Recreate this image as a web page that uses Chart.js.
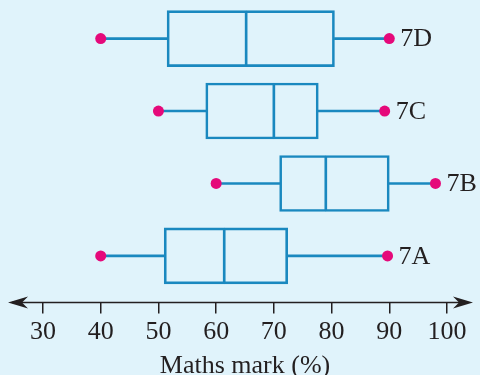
<!DOCTYPE html>
<html>
<head>
<meta charset="utf-8">
<script src="https://cdn.jsdelivr.net/npm/chart.js@4"></script>
<style>
  html, body { margin: 0; padding: 0; background: #e0f3fb; }
  #wrap { width: 480px; height: 375px; position: relative; }
</style>
</head>
<body>
<div id="wrap"><canvas id="boxChart"></canvas></div>
<script>
// one entry per class, bottom row first
const classes = ['7A', '7B', '7C', '7D'];
const minMarks = [40, 60, 50, 40];
const q1Marks = [51, 71, 58.2, 51.5];
const medianMarks = [61.4, 79, 70, 65.2];
const q3Marks = [72.4, 90, 77.7, 80.5];
const maxMarks = [89.7, 98, 89.2, 90];
const markTicks = [30, 40, 50, 60, 70, 80, 90, 100];

const bg = '#e0f3fb';
const blue = '#1a88bf';
const pink = '#e5097a';
const ink = '#231f20';
const serif = "'Liberation Serif', 'DejaVu Serif', serif";

let rows = classes.map((c, i) => i + 1);

let pairs = (a, b) => rows.map((r, i) => ({ y: r, x: [a[i], b[i]] }));

let dots = [];
rows.forEach((r, i) => {
  dots.push({ x: minMarks[i], y: r });
  dots.push({ x: maxMarks[i], y: r });
});

// axis line with arrow heads, class names next to the top whisker
const extras = {
  id: 'extras',
  beforeDraw(chart) {
    const ctx = chart.ctx;
    ctx.save();
    ctx.fillStyle = bg;
    ctx.fillRect(0, 0, chart.width, chart.height);
    ctx.restore();
  },
  afterDatasetsDraw(chart) {
    const { ctx, chartArea, scales: { x, y } } = chart;
    const ay = chartArea.bottom;
    ctx.save();
    ctx.strokeStyle = ink;
    ctx.fillStyle = ink;
    ctx.lineWidth = 1.6;
    ctx.beginPath();
    ctx.moveTo(12, ay);
    ctx.lineTo(468, ay);
    ctx.stroke();

    ctx.beginPath();
    ctx.moveTo(8, ay);
    ctx.lineTo(28, ay - 6);
    ctx.lineTo(22, ay);
    ctx.lineTo(28, ay + 6);
    ctx.closePath();
    ctx.fill();

    ctx.beginPath();
    ctx.moveTo(473, ay);
    ctx.lineTo(453, ay - 6);
    ctx.lineTo(459, ay);
    ctx.lineTo(453, ay + 6);
    ctx.closePath();
    ctx.fill();

    ctx.font = '26px ' + serif;
    ctx.textAlign = 'left';
    ctx.textBaseline = 'middle';
    classes.forEach((c, i) => {
      ctx.fillText(c, x.getPixelForValue(maxMarks[i]) + 11, y.getPixelForValue(rows[i]) + 1);
    });
    ctx.restore();
  }
};

const ctx = document.getElementById('boxChart').getContext('2d');

new Chart(ctx, {
  type: 'bar',
  data: {
    datasets: [
      {
        type: 'scatter',
        data: dots,
        pointRadius: 5.5,
        pointHoverRadius: 5.5,
        backgroundColor: pink,
        borderWidth: 0,
        order: 0,
      },
      {
        data: pairs(q1Marks, medianMarks),
        backgroundColor: 'rgba(0,0,0,0)',
        borderColor: blue,
        borderWidth: { top: 2, bottom: 2, left: 2, right: 1 },
        borderSkipped: false,
        barThickness: 56,
        grouped: false,
        order: 1,
      },
      {
        data: pairs(medianMarks, q3Marks),
        backgroundColor: 'rgba(0,0,0,0)',
        borderColor: blue,
        borderWidth: { top: 2, bottom: 2, left: 1, right: 2 },
        borderSkipped: false,
        barThickness: 56,
        grouped: false,
        order: 1,
      },
      {
        data: pairs(minMarks, q1Marks),
        backgroundColor: blue,
        borderWidth: 0,
        barThickness: 2,
        grouped: false,
        order: 2,
      },
      {
        data: pairs(q3Marks, maxMarks),
        backgroundColor: blue,
        borderWidth: 0,
        barThickness: 2,
        grouped: false,
        order: 2,
      },
    ],
  },
  options: {
    indexAxis: 'y',
    responsive: true,
    maintainAspectRatio: false,
    animation: false,
    layout: { padding: { left: 43, right: 33, top: 2, bottom: -7 } },
    plugins: {
      legend: { display: false },
      tooltip: { enabled: false },
    },
    scales: {
      x: {
        type: 'linear',
        min: 30,
        max: 100,
        afterBuildTicks: (axis) => {
          axis.ticks = markTicks.map((v) => ({ value: v }));
        },
        grid: {
          drawOnChartArea: false,
          drawTicks: true,
          tickLength: 11,
          color: ink,
          lineWidth: 1.5,
        },
        border: { display: false },
        ticks: {
          color: ink,
          padding: 6,
          maxRotation: 0,
          font: { family: serif, size: 26, lineHeight: 1 },
        },
        title: {
          display: true,
          text: 'Maths mark (%)',
          color: ink,
          padding: { top: 1.5, bottom: 3 },
          font: { family: serif, size: 26, lineHeight: 1 },
        },
      },
      y: {
        type: 'linear',
        min: 0.357,
        max: 4.457,
        offset: false,
        grid: { offset: false },
        display: false,
      },
    },
  },
  plugins: [extras],
});
</script>
</body>
</html>
